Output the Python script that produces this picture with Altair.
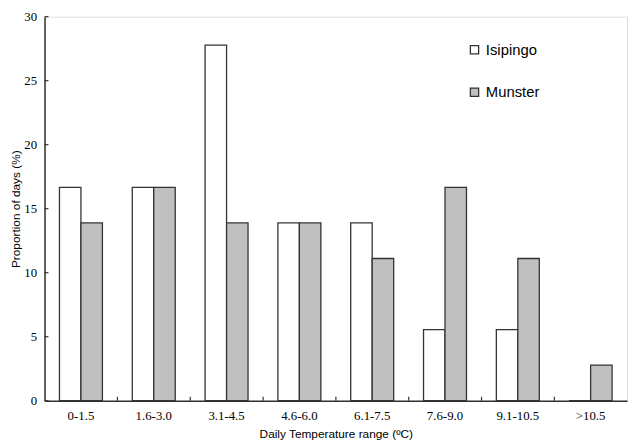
import altair as alt
import pandas as pd

categories = ["0-1.5", "1.6-3.0", "3.1-4.5", "4.6-6.0", "6.1-7.5", "7.6-9.0", "9.1-10.5", ">10.5"]
isipingo = [16.67, 16.67, 27.78, 13.89, 13.89, 5.56, 5.56, 0.0]
munster = [13.89, 16.67, 13.89, 13.89, 11.11, 16.67, 11.11, 2.78]
series = ["Isipingo", "Munster"]
y_ticks = [0, 5, 10, 15, 20, 25, 30]

rows = []
for c, a, b in zip(categories, isipingo, munster):
    rows.append({"cat": c, "series": series[0], "value": a})
    rows.append({"cat": c, "series": series[1], "value": b})
df = pd.DataFrame(rows)

W, H = 590, 389

xscale = alt.Scale(domain=categories, paddingInner=0.41, paddingOuter=0.205)
yscale = alt.Scale(domain=[0, 30], nice=False)

bars = alt.Chart(df).mark_bar(stroke="#333333", strokeWidth=1.3).encode(
    x=alt.X("cat:N", scale=xscale, sort=categories,
            axis=alt.Axis(title="Daily Temperature range (ºC)", labelAngle=0, ticks=False,
                          labelFont="Liberation Serif", labelFontSize=13, labelColor="black",
                          labelPadding=9, titleFont="Liberation Sans", titleFontSize=12,
                          titleFontWeight="normal", titleColor="black", titlePadding=6,
                          domainColor="#333333", domainWidth=1.5)),
    xOffset=alt.XOffset("series:N", sort=series),
    y=alt.Y("value:Q", scale=yscale,
            axis=alt.Axis(title="Proportion of days (%)", values=y_ticks, ticks=False, grid=False,
                          labelFont="Liberation Serif", labelFontSize=13, labelColor="black",
                          labelPadding=8, titleFont="Liberation Sans", titleFontSize=12,
                          titleFontWeight="normal", titleColor="black", titlePadding=1,
                          domainColor="#333333", domainWidth=1.5)),
    color=alt.Color("series:N", sort=series,
                    scale=alt.Scale(domain=series, range=["white", "#c0c0c0"]),
                    legend=alt.Legend(title=None, orient="none", legendX=428, legendY=26,
                                      symbolType="square", symbolSize=70,
                                      symbolStrokeColor="#333333", symbolStrokeWidth=1.3,
                                      labelFont="Liberation Sans", labelFontSize=15,
                                      labelColor="black", labelOffset=4, rowPadding=27)),
)

tick_df = pd.DataFrame({"cat": categories[1:]})
xticks = alt.Chart(tick_df).mark_rule(color="#333333", strokeWidth=1.2).encode(
    x=alt.X("cat:N", scale=xscale, sort=categories, bandPosition=0),
    xOffset=alt.value(-15),
    y=alt.value(H),
    y2=alt.value(H - 4),
)

ytick_df = pd.DataFrame({"v": y_ticks})
yticks = alt.Chart(ytick_df).mark_rule(color="#333333", strokeWidth=1.2).encode(
    y=alt.Y("v:Q", scale=yscale),
    x=alt.value(0),
    x2=alt.value(4),
)

chart = alt.layer(bars, xticks, yticks).properties(
    width=W, height=H,
    autosize=alt.AutoSizeParams(type="none"),
    padding={"left": 37, "top": 6, "right": 3, "bottom": 40},
).configure_view(stroke="#333333", strokeWidth=1.5).configure(background="white")

chart.save("out.html", embed_options={"renderer": "svg", "actions": False})
